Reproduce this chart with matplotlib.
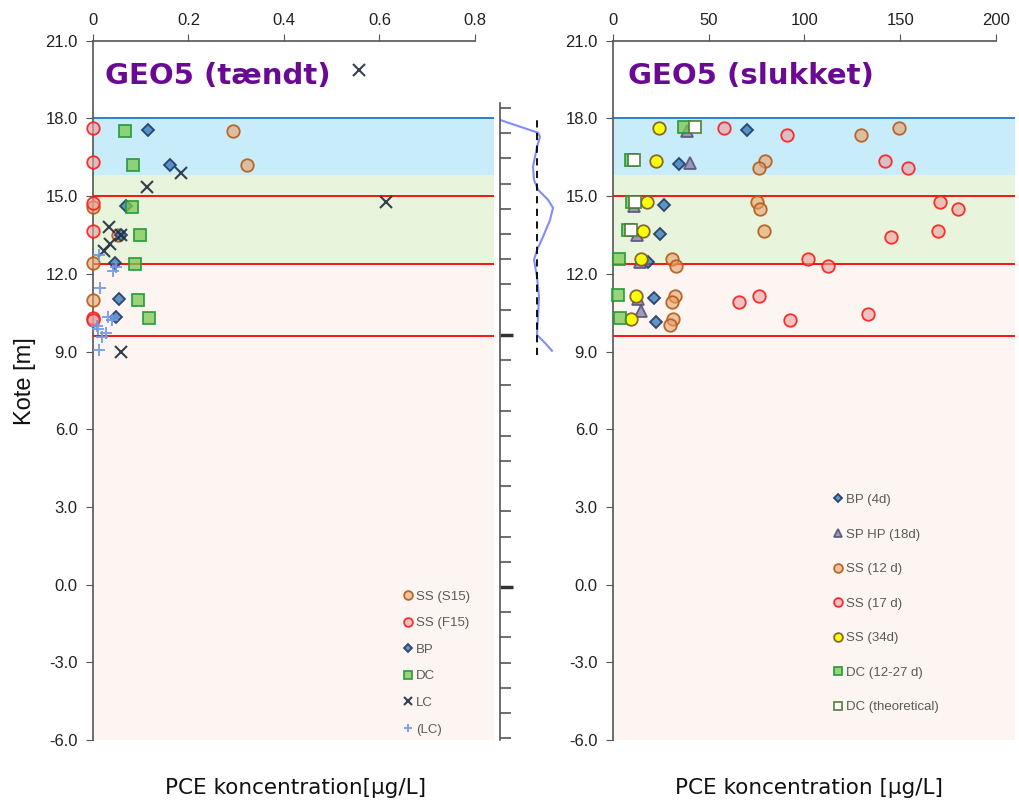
import numpy as np
import matplotlib
matplotlib.use("Agg")
import matplotlib.pyplot as plt
from matplotlib.colors import to_rgba

# --- left panel: GEO5 (taendt), concentration in ug/L vs kote [m] ---
ss_s15_x = [0.0, 0.052, 0.0, 0.0, 0.293, 0.322]
ss_s15_y = [14.58, 13.5, 12.42, 11.01, 17.51, 16.2]
ss_f15_x = [0.0, 0.0, 0.0, 0.0, 0.0, 0.0]
ss_f15_y = [17.64, 16.33, 14.75, 13.64, 10.3, 10.2]
bp_x = [0.116, 0.161, 0.070, 0.058, 0.047, 0.055, 0.048]
bp_y = [17.54, 16.22, 14.61, 13.5, 12.43, 11.04, 10.34]
dc_x = [0.066, 0.084, 0.081, 0.099, 0.087, 0.095, 0.117]
dc_y = [17.5, 16.2, 14.6, 13.5, 12.4, 11.0, 10.3]
lc_x = [0.557, 0.184, 0.113, 0.613, 0.033, 0.059, 0.035, 0.023, 0.059]
lc_y = [19.87, 15.9, 15.36, 14.78, 13.8, 13.52, 13.17, 12.87, 8.98]
lc2_x = [0.013, 0.042, 0.048, 0.015, 0.031, 0.039, 0.008, 0.010, 0.027, 0.019, 0.013]
lc2_y = [12.72, 12.13, 12.28, 11.47, 10.33, 10.2, 10.0, 9.88, 9.72, 9.58, 9.06]

# --- right panel: GEO5 (slukket) ---
bp4_x = [69.9, 34.6, 26.9, 24.6, 18.5, 21.5, 22.7]
bp4_y = [17.55, 16.25, 14.65, 13.55, 12.45, 11.05, 10.15]
sphp_x = [38.9, 40.3, 11.0, 12.4, 14.0, 13.1, 14.8]
sphp_y = [17.51, 16.29, 14.64, 13.52, 12.47, 11.04, 10.56]
ss12_x = [149.5, 129.6, 79.5, 76.2, 75.1, 77.0, 78.9, 30.7, 32.8, 32.5, 30.7, 31.4, 29.9]
ss12_y = [17.65, 17.38, 16.35, 16.1, 14.76, 14.51, 13.65, 12.56, 12.31, 11.15, 10.92, 10.24, 10.02]
ss17_x = [58.0, 91.0, 142.2, 154.1, 170.8, 180.3, 169.6, 145.3, 102.0, 112.3, 76.5, 65.7, 133.3, 92.7]
ss17_y = [17.65, 17.38, 16.35, 16.1, 14.76, 14.51, 13.65, 13.42, 12.56, 12.31, 11.15, 10.92, 10.45, 10.21]
ss34_x = [24.1, 22.7, 17.6, 15.5, 14.5, 11.9, 9.4]
ss34_y = [17.65, 16.35, 14.76, 13.65, 12.56, 11.15, 10.24]
dc27_x = [37.2, 9.3, 10.1, 8.0, 3.1, 2.8, 3.7]
dc27_y = [17.68, 16.39, 14.77, 13.68, 12.58, 11.18, 10.28]
dcth_x = [43.0, 11.0, 11.5, 9.3]
dcth_y = [17.68, 16.39, 14.77, 13.68]

# --- profile between the panels ---
prof_x = [0, 38, 40, 37, 33, 34, 38, 48, 53, 50, 43, 37, 34, 37, 39, 38, 37, 45, 52]
prof_y = [18.53, 18.02, 17.86, 17.46, 16.67, 16.15, 15.76, 15.36, 15.04, 14.56,
          13.89, 13.37, 12.98, 12.30, 11.51, 10.72, 10.00, 9.68, 9.37]
ref_x = 37
ref_y = [9.21, 18.65]

# layer boundaries (kote)
top_layer = 18.0
layer_lines = [15.0, 12.4, 9.6]
blue_band = (15.8, 18.0)
green_band = (12.4, 15.8)

yticks = np.arange(-6, 22, 3)

plt.rcParams['font.family'] = ['Liberation Sans', 'DejaVu Sans']

fig = plt.figure(figsize=(10.2, 8), dpi=100)
ax1 = fig.add_axes([93 / 1020, 0.075, 401 / 1020, 0.874])
ax2 = fig.add_axes([613 / 1020, 0.075, 402 / 1020, 0.874])
axm = fig.add_axes([500 / 1020, 0.075, 60 / 1020, 637 / 800])


def mk(ax, x, y, marker, face, edge, ms, label=None, fa=0.6, ea=0.9, mew=1.3):
    fc = 'none' if face == 'none' else to_rgba(face, fa)
    ax.plot(x, y, ls='none', marker=marker, ms=ms, mfc=fc,
            mec=to_rgba(edge, ea), mew=mew, label=label, zorder=5, clip_on=False)


def setup(ax, xmax, xtop, xticks):
    ax.axhspan(-6, green_band[0], color='#fdf5f2', lw=0, zorder=0)
    ax.axhspan(*green_band, color='#e8f4db', lw=0, zorder=0)
    ax.axhspan(*blue_band, color='#c8ecf9', lw=0, zorder=0)
    ax.axhline(top_layer, color='#2277bb', lw=1.3, zorder=2)
    for h in layer_lines:
        ax.axhline(h, color='#ff0000', lw=1.3, zorder=2)
    ax.set_xlim(0, xmax)
    ax.set_ylim(-6, 21)
    ax.xaxis.tick_top()
    ax.set_xticks(xticks)
    ax.set_yticks(yticks)
    ax.set_yticklabels([f'{v:.1f}' for v in yticks])
    ax.spines['top'].set_bounds(0, xtop)
    for s in ['right', 'bottom']:
        ax.spines[s].set_visible(False)
    for s in ['top', 'left']:
        ax.spines[s].set_color('#555555')
        ax.spines[s].set_linewidth(1.2)
    ax.tick_params(direction='out', length=5, color='#555555', labelsize=12,
                   labelcolor='#222222', pad=4)
    ax.tick_params(axis='y', pad=6)
    ax.patch.set_alpha(0)


setup(ax1, 0.84, 0.8, [0, 0.2, 0.4, 0.6, 0.8])
ax1.set_xticklabels(['0', '0.2', '0.4', '0.6', '0.8'])
setup(ax2, 210, 200, [0, 50, 100, 150, 200])

orange_f, orange_e = '#e9a066', '#b5591b'
red_f, red_e = '#e8a0a0', '#ff1a1a'
blue_f, blue_e = '#2e75b6', '#1f3864'
green_f, green_e = '#7cc850', '#1f9a3a'

mk(ax1, ss_s15_x, ss_s15_y, 'o', orange_f, orange_e, 9, 'SS (S15)')
mk(ax1, ss_f15_x, ss_f15_y, 'o', red_f, red_e, 9, 'SS (F15)')
mk(ax1, bp_x, bp_y, 'D', blue_f, blue_e, 6.2, 'BP', fa=0.75)
mk(ax1, dc_x, dc_y, 's', green_f, green_e, 8.5, 'DC', fa=0.75)
mk(ax1, lc_x, lc_y, 'x', '#1e2d3d', '#1e2d3d', 8, 'LC', mew=1.5)
mk(ax1, lc2_x, lc2_y, '+', '#6f98e8', '#6f98e8', 9, '(LC)', mew=1.4)

ax1.text(0.025, 19.65, 'GEO5 (tændt)', family='DejaVu Sans', fontsize=21,
         fontweight='bold', color='#6a0a94', va='center', ha='left')

mk(ax2, bp4_x, bp4_y, 'D', blue_f, blue_e, 6.2, 'BP (4d)', fa=0.75)
mk(ax2, sphp_x, sphp_y, '^', '#8a84b0', '#585479', 8, 'SP HP (18d)', fa=0.8)
mk(ax2, ss12_x, ss12_y, 'o', orange_f, orange_e, 9, 'SS (12 d)')
mk(ax2, ss17_x, ss17_y, 'o', red_f, red_e, 9, 'SS (17 d)')
mk(ax2, ss34_x, ss34_y, 'o', '#ffff00', '#7a5a20', 9, 'SS (34d)', fa=0.95)
mk(ax2, dc27_x, dc27_y, 's', green_f, green_e, 8.5, 'DC (12-27 d)', fa=0.75)
mk(ax2, dcth_x, dcth_y, 's', 'white', '#4f7a3a', 8.5, 'DC (theoretical)', fa=1.0)

ax2.text(7.9, 19.65, 'GEO5 (slukket)', family='DejaVu Sans', fontsize=21,
         fontweight='bold', color='#6a0a94', va='center', ha='left')

for ax, anchor, sp in [(ax1, (0.773, 0.214), 1.09), (ax2, (0.5465, 0.352), 1.69)]:
    leg = ax.legend(loc='upper left', bbox_to_anchor=anchor, frameon=False,
                    fontsize=9.5, handlelength=0.8, handletextpad=0.2,
                    borderpad=0, borderaxespad=0, labelspacing=sp, markerscale=0.7)
    for t in leg.get_texts():
        t.set_color('#595959')

# profile axis between the panels
axm.plot(prof_x, prof_y, color='#6b78ff', lw=1.5, alpha=0.85)
axm.plot([ref_x, ref_x], ref_y, color='black', lw=1.3, ls=(0, (4, 3)))
axm.set_xlim(0, 60)
axm.set_ylim(-6.07, 19.2)
axm.set_xticks([])
axm.set_yticks([0, 10])
axm.set_yticks(np.arange(-6, 20, 1), minor=True)
axm.yaxis.set_ticklabels([])
axm.tick_params(axis='y', which='major', direction='in', length=9, width=2.5, color='#333333')
axm.tick_params(axis='y', which='minor', direction='in', length=8, width=1.2, color='#555555')
for s in ['top', 'right', 'bottom']:
    axm.spines[s].set_visible(False)
axm.spines['left'].set_color('#555555')
axm.spines['left'].set_linewidth(1.2)
axm.patch.set_alpha(0)

fig.text(25 / 1020, 1 - 381 / 800, 'Kote [m]', rotation=90, fontsize=17,
         ha='center', va='center', color='#111111')
fig.text(296 / 1020, 1 - 788 / 800, 'PCE koncentration[µg/L]', family='DejaVu Sans',
         fontsize=15.5, ha='center', va='center', color='#111111')
fig.text(809 / 1020, 1 - 788 / 800, 'PCE koncentration [µg/L]', family='DejaVu Sans',
         fontsize=15.5, ha='center', va='center', color='#111111')

fig.savefig('out.png', dpi=100)
